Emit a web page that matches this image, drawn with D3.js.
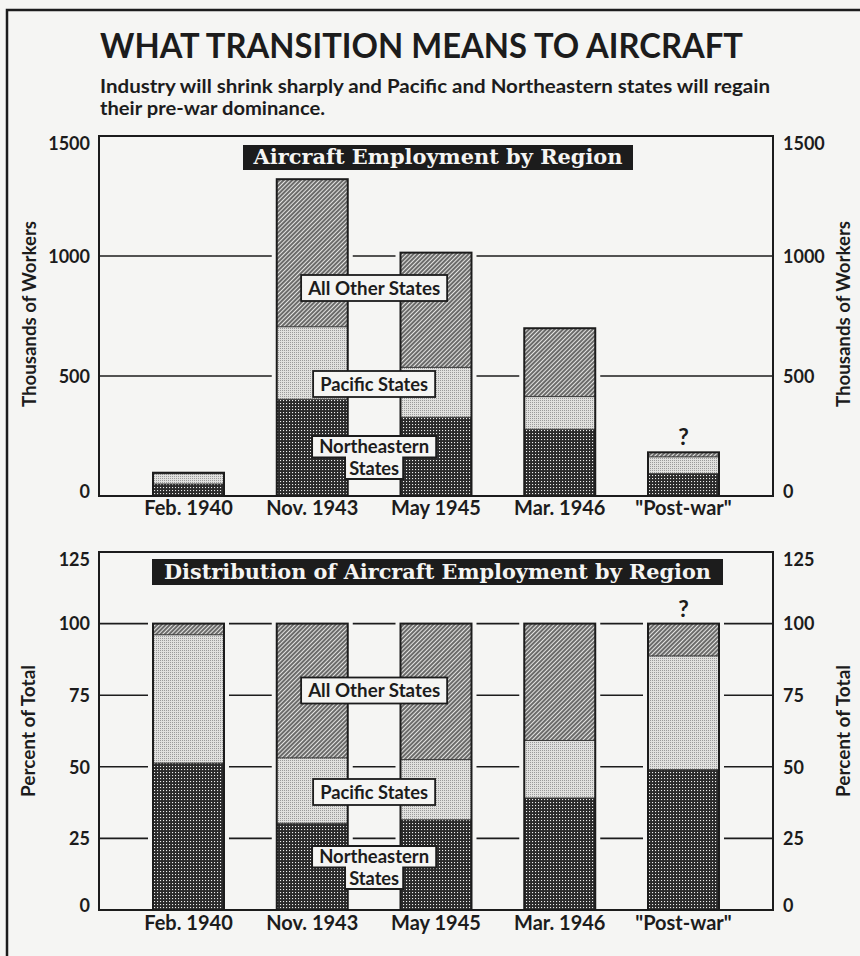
<!DOCTYPE html>
<html>
<head>
<meta charset="utf-8">
<script src="https://cdn.jsdelivr.net/npm/d3@7"></script>
<style>
  html, body { margin: 0; padding: 0; background: #f5f5f3; }
  svg { display: block; }
  text { font-family: Lato, "Open Sans", sans-serif; font-weight: 700; fill: #1c1c1c; }
  text.slab { font-family: "DejaVu Serif", serif; font-weight: 700; fill: #f5f5f3; }
</style>
</head>
<body>
<svg id="chart" width="860" height="956"></svg>
<script>
// ---- data ----------------------------------------------------------
const categories = ["Feb. 1940", "Nov. 1943", "May 1945", "Mar. 1946", "\"Post-war\""];
const regionNames = ["Northeastern States", "Pacific States", "All Other States"];

// Aircraft employment, thousands of workers
const northeastern = [50, 403, 328, 278, 93];
const pacific      = [43, 302, 208, 136, 70];
const otherStates  = [4, 615, 478, 285, 19];

// Share of aircraft employment, percent of total
const northeasternPct = [51.3, 30.3, 31.5, 39.1, 49.0];
const pacificPct      = [44.8, 22.8, 21.0, 20.1, 39.7];
const otherPct        = [3.9, 46.9, 47.5, 40.8, 11.3];

const employmentTicks = [0, 500, 1000, 1500];
const percentTicks = [0, 25, 50, 75, 100, 125];
const estimatedCategory = "\"Post-war\"";

// ---- setup ---------------------------------------------------------
const INK = "#1c1c1c", PAPER = "#f5f5f3";
const svg = d3.select("#chart");
const defs = svg.append("defs");

// Northeastern: dark mesh with light dots
const pNE = defs.append("pattern").attr("id", "pat-ne")
  .attr("patternUnits", "userSpaceOnUse").attr("width", 3).attr("height", 3);
pNE.append("rect").attr("width", 3).attr("height", 3).attr("fill", "#2a2a2a");
pNE.append("rect").attr("x", 1).attr("y", 1).attr("width", 1.1).attr("height", 1.1).attr("fill", "#eeeeee");

// Pacific: light stipple
const pPac = defs.append("pattern").attr("id", "pat-pac")
  .attr("patternUnits", "userSpaceOnUse").attr("width", 2).attr("height", 2);
pPac.append("rect").attr("width", 2).attr("height", 2).attr("fill", "#e0e0de");
pPac.append("rect").attr("width", 1).attr("height", 1).attr("fill", "#9a9a9a");

// All other states: fine diagonal hatching
const pOth = defs.append("pattern").attr("id", "pat-oth")
  .attr("patternUnits", "userSpaceOnUse").attr("width", 3).attr("height", 3)
  .attr("patternTransform", "rotate(45)");
pOth.append("rect").attr("width", 3).attr("height", 3).attr("fill", "#e4e4e2");
pOth.append("line").attr("x1", 1).attr("y1", 0).attr("x2", 1).attr("y2", 3)
  .attr("stroke", "#2a2a2a").attr("stroke-width", 1.3);

const fills = ["url(#pat-ne)", "url(#pat-pac)", "url(#pat-oth)"];

// page rule along the top and left edge
svg.append("path").attr("d", "M7,956V10H860")
  .attr("fill", "none").attr("stroke", INK).attr("stroke-width", 2.5);

// heading
svg.append("text").attr("x", 100).attr("y", 58)
  .attr("font-size", 35).attr("textLength", 643).attr("lengthAdjust", "spacingAndGlyphs")
  .text("WHAT TRANSITION MEANS TO AIRCRAFT");
svg.append("text").attr("x", 100).attr("y", 93)
  .attr("font-size", 18).attr("textLength", 670).attr("lengthAdjust", "spacingAndGlyphs")
  .text("Industry will shrink sharply and Pacific and Northeastern states will regain");
svg.append("text").attr("x", 100).attr("y", 115)
  .attr("font-size", 18).attr("textLength", 225).attr("lengthAdjust", "spacingAndGlyphs")
  .text("their pre-war dominance.");

const plotLeft = 99, plotRight = 773;
const x = d3.scaleBand().domain(categories)
  .range([plotLeft, plotRight]).paddingInner(0.4263).paddingOuter(0.4364);

function drawPanel(cfg) {
  const g = svg.append("g");
  const y = d3.scaleLinear().domain([0, cfg.max]).range([cfg.bottom, cfg.top]);

  const rows = categories.map((c, i) => ({
    category: c, ne: cfg.series[0][i], pac: cfg.series[1][i], oth: cfg.series[2][i]
  }));
  const stacked = d3.stack().keys(["ne", "pac", "oth"])(rows);
  const totals = rows.map(r => r.ne + r.pac + r.oth);

  // gridlines
  g.append("g").selectAll("line")
    .data(cfg.ticks.filter(t => t > 0 && t < cfg.max))
    .join("line")
    .attr("x1", plotLeft).attr("x2", plotRight)
    .attr("y1", d => y(d)).attr("y2", d => y(d))
    .attr("stroke", INK).attr("stroke-width", 1.6);

  // clear margin around each bar
  g.append("g").selectAll("rect").data(rows).join("rect")
    .attr("x", d => x(d.category) - 5)
    .attr("y", (d, i) => y(totals[i]) - 3)
    .attr("width", x.bandwidth() + 10)
    .attr("height", (d, i) => cfg.bottom - y(totals[i]) + 3)
    .attr("fill", PAPER);

  // stacked segments
  stacked.forEach((layer, li) => {
    g.append("g").selectAll("rect").data(layer).join("rect")
      .attr("x", d => x(d.data.category))
      .attr("y", d => y(d[1]))
      .attr("width", x.bandwidth())
      .attr("height", d => y(d[0]) - y(d[1]))
      .attr("fill", fills[li]);
  });

  // segment boundaries
  stacked.slice(0, 2).forEach(layer => {
    g.append("g").selectAll("line").data(layer).join("line")
      .attr("x1", d => x(d.data.category)).attr("x2", d => x(d.data.category) + x.bandwidth())
      .attr("y1", d => y(d[1])).attr("y2", d => y(d[1]))
      .attr("stroke", "#333").attr("stroke-width", 1);
  });

  // bar outlines
  g.append("g").selectAll("rect").data(rows).join("rect")
    .attr("x", d => x(d.category))
    .attr("y", (d, i) => y(totals[i]))
    .attr("width", x.bandwidth())
    .attr("height", (d, i) => cfg.bottom - y(totals[i]))
    .attr("fill", "none").attr("stroke", INK).attr("stroke-width", 2);

  // plot frame
  g.append("rect").attr("x", plotLeft).attr("y", cfg.top)
    .attr("width", plotRight - plotLeft).attr("height", cfg.bottom - cfg.top)
    .attr("fill", "none").attr("stroke", INK).attr("stroke-width", 2);

  // axes on both sides
  const nudge = t => t === 0 ? -5 : (t === cfg.max ? 7 : 0);
  const left = g.append("g").attr("transform", `translate(${plotLeft},0)`)
    .call(d3.axisLeft(y).tickValues(cfg.ticks).tickFormat(d3.format("d"))
      .tickSize(0).tickPadding(9));
  const right = g.append("g").attr("transform", `translate(${plotRight},0)`)
    .call(d3.axisRight(y).tickValues(cfg.ticks).tickFormat(d3.format("d"))
      .tickSize(0).tickPadding(10));
  [left, right].forEach(a => {
    a.attr("font-size", null).attr("font-family", null);
    a.select(".domain").remove();
    a.selectAll("text")
      .style("font-size", "18px").style("font-family", "Lato, sans-serif")
      .style("font-weight", 700).style("fill", INK)
      .attr("dy", t => (0.35 * 18 + nudge(t)) + "px");
  });

  // axis titles
  [cfg.leftTitleX, cfg.rightTitleX].forEach(tx => {
    g.append("text")
      .attr("transform", `translate(${tx},${cfg.titleY}) rotate(-90)`)
      .attr("text-anchor", "middle").attr("dominant-baseline", "central")
      .attr("font-size", 18.5)
      .attr("textLength", cfg.axisTitleW).attr("lengthAdjust", "spacingAndGlyphs")
      .text(cfg.axisTitle);
  });

  // category labels
  g.append("g").selectAll("text").data(categories).join("text")
    .attr("x", d => x(d) + x.bandwidth() / 2)
    .attr("y", cfg.bottom + cfg.catOffset)
    .attr("text-anchor", "middle").attr("font-size", 20)
    .text(d => d);

  // question mark over the estimate
  const ei = categories.indexOf(estimatedCategory);
  g.append("text")
    .attr("x", x(estimatedCategory) + x.bandwidth() / 2)
    .attr("y", y(totals[ei]) - 7)
    .attr("text-anchor", "middle").attr("font-size", 23).text("?");

  // panel heading plate
  g.append("rect").attr("x", cfg.plate.x).attr("y", cfg.plate.y)
    .attr("width", cfg.plate.w).attr("height", cfg.plate.h).attr("fill", INK);
  g.append("text").attr("class", "slab")
    .attr("x", cfg.plate.x + cfg.plate.w / 2).attr("y", cfg.plate.y + cfg.plate.h - 6.5)
    .attr("text-anchor", "middle").attr("font-size", 19.5)
    .attr("textLength", cfg.plate.textW).attr("lengthAdjust", "spacingAndGlyphs")
    .text(cfg.heading);

  // region labels in the gap between the 2nd and 3rd bars
  const cx = (x(categories[1]) + x.bandwidth() + x(categories[2])) / 2;
  const box = (label, cy, w, tw) => {
    g.append("rect").attr("x", cx - w / 2).attr("y", cy - 13).attr("width", w).attr("height", 26)
      .attr("fill", PAPER).attr("stroke", INK).attr("stroke-width", 1.8);
    g.append("text").attr("x", cx).attr("y", cy + 6.5).attr("text-anchor", "middle")
      .attr("font-size", 18.5).attr("textLength", tw).attr("lengthAdjust", "spacingAndGlyphs")
      .text(label);
  };
  box(regionNames[2], cfg.labelY[0], 146, 132);
  box(regionNames[1], cfg.labelY[1], 122, 108);

  // two-line label drawn as a stepped plate
  const t0 = cfg.labelY[2];
  const wTop = 124, wLow = 58, hRow = 21.5;
  const path = d3.path();
  path.moveTo(cx - wTop / 2, t0);
  path.lineTo(cx + wTop / 2, t0);
  path.lineTo(cx + wTop / 2, t0 + hRow);
  path.lineTo(cx + wLow / 2, t0 + hRow);
  path.lineTo(cx + wLow / 2, t0 + 2 * hRow);
  path.lineTo(cx - wLow / 2, t0 + 2 * hRow);
  path.lineTo(cx - wLow / 2, t0 + hRow);
  path.lineTo(cx - wTop / 2, t0 + hRow);
  path.closePath();
  g.append("path").attr("d", path.toString())
    .attr("fill", PAPER).attr("stroke", INK).attr("stroke-width", 1.8);
  const words = regionNames[0].split(" ");
  g.append("text").attr("x", cx).attr("y", t0 + 17).attr("text-anchor", "middle")
    .attr("font-size", 18.5).attr("textLength", 110).attr("lengthAdjust", "spacingAndGlyphs")
    .text(words[0]);
  g.append("text").attr("x", cx).attr("y", t0 + hRow + 17).attr("text-anchor", "middle")
    .attr("font-size", 18.5).attr("textLength", 50).attr("lengthAdjust", "spacingAndGlyphs")
    .text(words[1]);
}

drawPanel({
  top: 136, bottom: 496, max: 1500, ticks: employmentTicks,
  series: [northeastern, pacific, otherStates],
  axisTitle: "Thousands of Workers", axisTitleW: 186,
  leftTitleX: 29, rightTitleX: 843, titleY: 314,
  catOffset: 19,
  heading: "Aircraft Employment by Region",
  plate: { x: 243, y: 145, w: 390, h: 25, textW: 369 },
  labelY: [288, 384, 436]
});

drawPanel({
  top: 552, bottom: 910, max: 125, ticks: percentTicks,
  series: [northeasternPct, pacificPct, otherPct],
  axisTitle: "Percent of Total", axisTitleW: 132,
  leftTitleX: 28, rightTitleX: 843, titleY: 731,
  catOffset: 20,
  heading: "Distribution of Aircraft Employment by Region",
  plate: { x: 152, y: 559, w: 571, h: 26, textW: 547 },
  labelY: [690.5, 792, 846]
});
</script>
</body>
</html>
